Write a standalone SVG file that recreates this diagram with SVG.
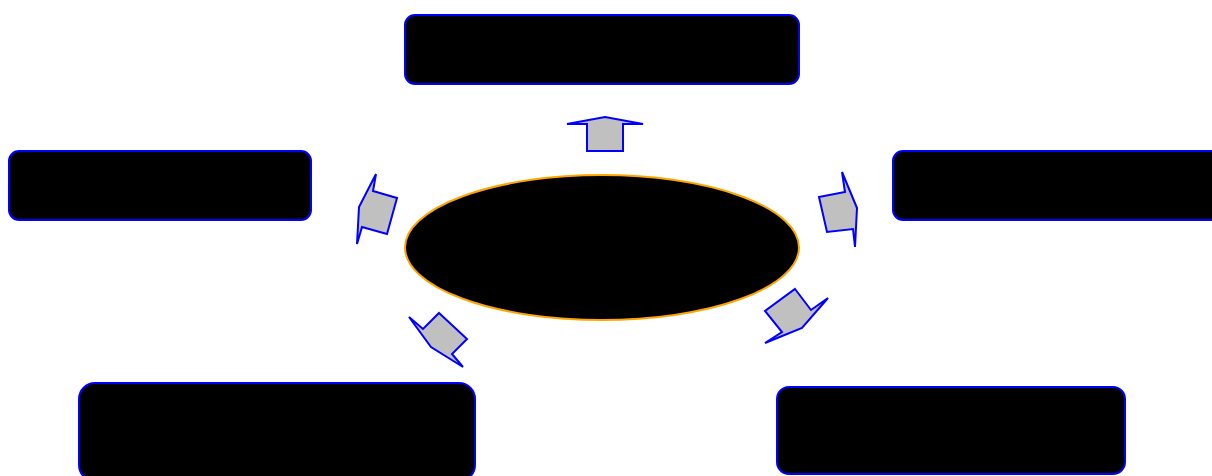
<svg xmlns="http://www.w3.org/2000/svg" width="1212" height="476" viewBox="0 0 1212 476">
<style>
.box{fill:#000;stroke:#0000ff;stroke-width:2}
.hub{fill:#000;stroke:#ffa500;stroke-width:2}
.arr{fill:#c0c0c0;stroke:#0000ff;stroke-width:2;stroke-linejoin:miter}
</style>
<rect width="1212" height="476" fill="#fff"/>
<g id="hub"><ellipse class="hub" cx="602" cy="247.5" rx="197" ry="72.5"/></g>
<g id="n-top"><rect class="box" x="405" y="15" width="394" height="69" rx="10"/></g>
<g id="n-left"><rect class="box" x="9" y="151" width="302" height="69" rx="10"/></g>
<g id="n-right"><rect class="box" x="893" y="151" width="340" height="69" rx="10"/></g>
<g id="n-bottom-left"><rect class="box" x="79" y="383" width="396" height="98" rx="16"/></g>
<g id="n-bottom-right"><rect class="box" x="777" y="387" width="348" height="87" rx="12"/></g>
<g id="connectors">
<polygon class="arr" points="587,151 623,151 623,124 643,124 605,117 567,124 587,124"/>
<polygon class="arr" points="397,198 387,234 362,227 357,244 359,207 376,174 373,191"/>
<polygon class="arr" points="819,197 845,192 842,172 857,208 855,247 853,229 827,232"/>
<polygon class="arr" points="439,313 467,339 452,354 463,367 431,347 409,317 423,329"/>
<polygon class="arr" points="795,289 811,310 828,298 802,328 765,343 782,332 765,311"/>
</g>
</svg>
